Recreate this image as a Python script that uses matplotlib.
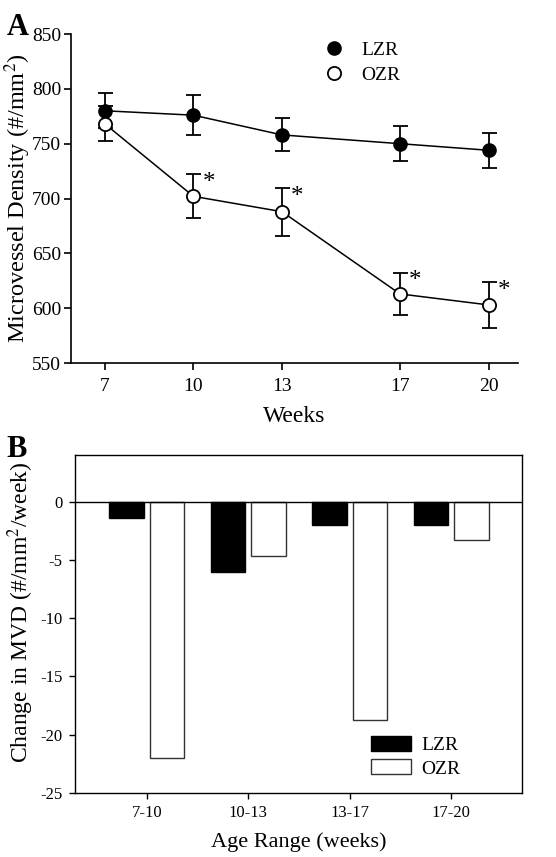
import numpy as np
import matplotlib
matplotlib.use("Agg")
import matplotlib.pyplot as plt
from matplotlib.lines import Line2D

plt.rcParams['font.family'] = ['Liberation Serif', 'DejaVu Serif']
plt.rcParams['mathtext.fontset'] = 'stix'
plt.rcParams['axes.unicode_minus'] = False

# Panel A data
weeks = [7, 10, 13, 17, 20]
lzr_mvd = [780, 776, 758, 750, 744]
lzr_err = [16, 18, 15, 16, 16]
ozr_mvd = [768, 702, 688, 613, 603]
ozr_err = [16, 20, 22, 19, 21]
ozr_sig = [False, True, True, True, True]

# Panel B data
age_ranges = ["7-10", "10-13", "13-17", "17-20"]
lzr_change = [-1.4, -6.0, -2.0, -2.0]
ozr_change = [-22.0, -4.7, -18.7, -3.3]

fig = plt.figure(figsize=(5.56, 8.57), dpi=100)

# ---- Panel A
ax1 = fig.add_axes([0.1277, 0.5764, 0.804, 0.3839])
ax1.errorbar(weeks, lzr_mvd, yerr=lzr_err, fmt='-o', color='black', mfc='black',
             mec='black', ms=9.5, lw=1.1, elinewidth=1.3, capsize=5.4, capthick=1.3,
             zorder=3)
ax1.errorbar(weeks, ozr_mvd, yerr=ozr_err, fmt='-o', color='black', mfc='white',
             mec='black', ms=9.5, mew=1.3, lw=1.1, elinewidth=1.3, capsize=5.4,
             capthick=1.3, zorder=4)
for w, v, e, s in zip(weeks, ozr_mvd, ozr_err, ozr_sig):
    if s:
        ax1.text(w + 0.3, v + e * 0.6, '*', fontsize=18,
                 ha='left', va='center')

ax1.set_xlim(5.85, 21.0)
ax1.set_ylim(550, 850)
ax1.set_xticks(weeks)
ax1.set_yticks(np.arange(550, 851, 50))
ax1.spines['top'].set_visible(False)
ax1.spines['right'].set_visible(False)
for sp in ('left', 'bottom'):
    ax1.spines[sp].set_linewidth(1.2)
ax1.tick_params(direction='out', length=5, width=1.2, labelsize=14)
ax1.tick_params(axis='x', pad=6)
ax1.tick_params(axis='y', pad=2)
ax1.set_xlabel('Weeks', fontsize=17, labelpad=8)
ax1.set_ylabel('Microvessel Density (#/mm$^2$)', fontsize=17.5)
ax1.yaxis.set_label_coords(-0.085, 0.5)
handles = [
    Line2D([], [], ls='none', marker='o', ms=9.5, mfc='black', mec='black'),
    Line2D([], [], ls='none', marker='o', ms=9.5, mfc='white', mec='black', mew=1.3),
]
ax1.legend(handles, ['LZR', 'OZR'], loc='upper left', bbox_to_anchor=(0.527, 1.03),
           frameon=False, fontsize=14, handlelength=1.0, handletextpad=0.9,
           labelspacing=0.35, numpoints=1)
fig.text(0.012, 0.985, 'A', fontsize=22, fontweight='bold', va='top', ha='left')

# ---- Panel B
ax2 = fig.add_axes([0.1349, 0.0747, 0.8039, 0.3944])
x = np.arange(len(age_ranges))
bw = 0.34
ax2.bar(x - 0.2, lzr_change, width=bw, color='black', edgecolor='black',
        linewidth=1.0, label='LZR', zorder=2)
ax2.bar(x + 0.2, ozr_change, width=bw, color='white', edgecolor='#333333',
        linewidth=1.0, label='OZR', zorder=2)
ax2.axhline(0, color='black', lw=1.0, zorder=3)
ax2.set_xlim(-0.71, 3.70)
ax2.set_ylim(-25, 4)
ax2.set_xticks(x)
ax2.set_xticklabels(age_ranges)
ax2.set_yticks(np.arange(-25, 1, 5))
for sp in ax2.spines.values():
    sp.set_linewidth(1.0)
ax2.tick_params(direction='out', length=4, width=1.0, labelsize=12, pad=5)
ax2.set_xlabel('Age Range (weeks)', fontsize=16, labelpad=8)
ax2.set_ylabel('Change in MVD (#/mm$^2$/week)', fontsize=17)
ax2.yaxis.set_label_coords(-0.087, 0.534)
ax2.legend(loc='lower left', bbox_to_anchor=(0.622, -0.006), frameon=False,
           fontsize=14, handlelength=2.1, handleheight=0.8, handletextpad=0.5,
           labelspacing=0.25)
fig.text(0.012, 0.492, 'B', fontsize=22, fontweight='bold', va='top', ha='left')

fig.savefig('out.png', dpi=100)
